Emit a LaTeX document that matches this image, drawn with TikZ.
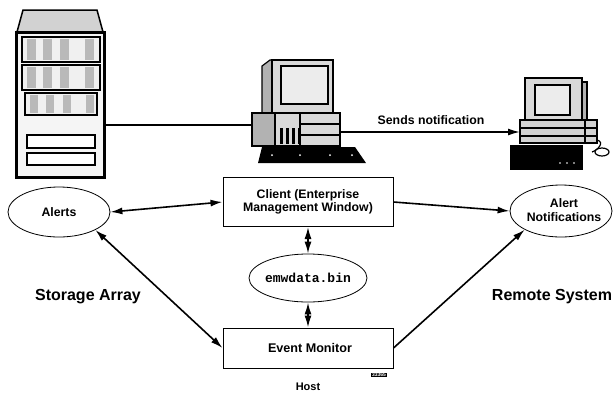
\documentclass[tikz,border=0pt]{standalone}
\usepackage{fontspec}
\setmainfont{Liberation Sans}
\setmonofont{Liberation Mono}
\usepackage{tikz}
\usetikzlibrary{arrows.meta,shapes.geometric}
\tikzset{
  lbl/.style={font=\bfseries\fontsize{12.3}{13.5}\selectfont, align=center},
  biglbl/.style={font=\bfseries\fontsize{16}{18}\selectfont},
  procbox/.style={draw, line width=1pt, minimum width=170pt, inner sep=0pt},
  store/.style={draw, ellipse, line width=0.8pt, inner sep=0pt},
  link/.style={line width=1.6pt, -{Latex[length=12pt,width=7pt]}},
  duallink/.style={line width=1.6pt, {Latex[length=12pt,width=7pt]}-{Latex[length=12pt,width=7pt]}},
  wire/.style={line width=1.6pt}
}

\begin{document}
\begin{tikzpicture}[x=1pt,y=-1pt]
\useasboundingbox (0,0) rectangle (614,392);

% storage array cabinet
\filldraw[fill=gray!35, line width=1.5pt] (23,10) -- (97,10) -- (103,32) -- (17,32) -- cycle;
\filldraw[fill=gray!8, line width=3pt] (16,32) rectangle (104,177);
\foreach \y in {37,65} {
  \filldraw[fill=gray!12, line width=1.2pt] (22,\y) rectangle (100,\y+25);
  \foreach \x in {27,43,60,85} \fill[gray!55] (\x,\y+2) rectangle (\x+9,\y+23);
}
\filldraw[fill=gray!12, line width=1.2pt] (25,93) rectangle (97,115);
\foreach \x in {30,46,63,86} \fill[gray!55] (\x,95) rectangle (\x+8,113);
\draw[line width=1.5pt, fill=white] (27,135) rectangle (95,148);
\draw[line width=1.5pt, fill=white] (27,153) rectangle (95,165);
\coordinate (array port) at (104,125);

% host workstation
\filldraw[fill=gray!60, line width=1.2pt] (262,66) -- (270,60) -- (333,60) -- (333,113) -- (262,113) -- cycle;
\filldraw[fill=gray!30, line width=1.2pt] (272,60) rectangle (333,113);
\filldraw[fill=gray!15, line width=1.8pt] (281,66) rectangle (328,104);
\filldraw[fill=gray!30, line width=1.2pt] (252,113) rectangle (340,146);
\filldraw[fill=gray!60, line width=1.2pt] (252,113) rectangle (275,146);
\draw[line width=1.2pt] (300,124) -- (340,124) (300,135) -- (340,135) (300,113) -- (300,146);
\foreach \x in {280,286,292,298} \fill (\x,128) rectangle (\x+3,144);
\fill (262,147) -- (355,147) -- (366,163) -- (258,163) -- cycle;
\foreach \x in {272,300,330,352} \fill[white] (\x,155) circle (1pt);
\coordinate (host in) at (252,125);
\coordinate (host out) at (340,132);

% remote workstation
\filldraw[fill=gray!60, line width=1.2pt] (575,82) rectangle (587,122);
\filldraw[fill=gray!30, line width=1.2pt] (525,78) rectangle (582,122);
\filldraw[fill=gray!15, line width=1.8pt] (535,85) rectangle (570,115);
\filldraw[fill=gray!35, line width=1.2pt] (520,120) rectangle (597,143);
\draw[line width=1.2pt] (520,128) -- (597,128) (520,136) -- (597,136) (585,120) -- (585,143);
\fill (510,145) rectangle (583,170);
\foreach \x in {560,567,574} \fill[white] (\x,163) circle (0.9pt);
\draw[line width=1.2pt] (597,140) .. controls (605,142) and (598,150) .. (592,152);
\filldraw[fill=white, line width=1.2pt] (602,152) ellipse (7pt and 4pt);
\coordinate (remote in) at (520,132);

\draw[wire] (array port) -- (host in);
\draw[link] (host out) -- (remote in);
\node[lbl] (sends) at (431,120) {Sends notification};

\node[store, minimum width=102pt, minimum height=50pt] (alerts) at (59,212) {};
\node[lbl] (alerts text) at (59,212) {Alerts};
\node[procbox, minimum height=49pt] (client) at (308,202) {};
\node[lbl] (client text) at (308,202) {Client (Enterprise\\Management Window)};
\node[store, minimum width=102pt, minimum height=52pt] (notif) at (561,211) {};
\node[lbl] (notif text) at (564,210) {Alert\\Notifications};
\node[store, minimum width=118pt, minimum height=48pt] (emwdata) at (308,278) {};
\node[font=\ttfamily\bfseries\fontsize{13}{14}\selectfont] (emwdata text) at (308,278) {emwdata.bin};
\node[procbox, minimum height=40pt] (monitor) at (308,348) {};
\node[lbl, font=\bfseries\fontsize{12.6}{14}\selectfont] (monitor text) at (310,348) {Event Monitor};

\node[biglbl] (storage) at (88,297) {Storage Array};
\node[biglbl] (remote) at (552,297) {Remote System};
\node[biglbl, font=\bfseries\fontsize{11}{12}\selectfont] (host) at (308,387) {Host};
\node[fill=black, text=white, inner sep=0.6pt, font=\bfseries\fontsize{5}{5}\selectfont] (fig no) at (379,375) {33365};

\draw[duallink] (alerts.east) -- (client.west);
\draw[link] (client.east) -- (notif.west);
\draw[duallink] (client.south) -- (emwdata.north);
\draw[duallink] (emwdata.south) -- (monitor.north);
\draw[duallink] (monitor.west) -- (alerts.south east);
\draw[link] (monitor.east) -- (notif.south west);
\end{tikzpicture}
\end{document}
